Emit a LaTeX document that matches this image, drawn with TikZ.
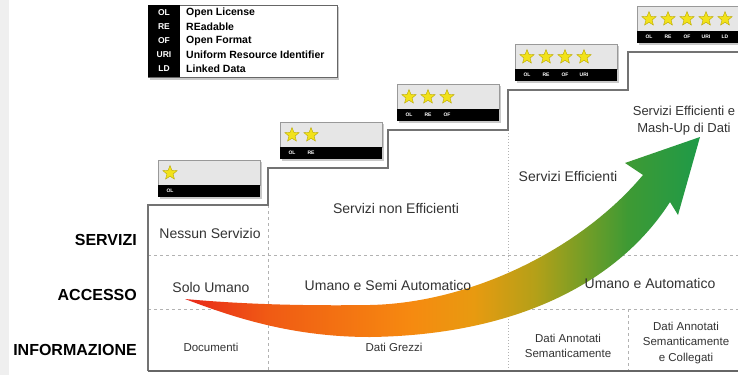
\documentclass[tikz,border=0pt]{standalone}
\usepackage{fontspec}
\setmainfont{Liberation Sans}
\usetikzlibrary{shapes.geometric}
\definecolor{bgstrip}{HTML}{EFEFEF}
\definecolor{celltext}{HTML}{333333}
\definecolor{boxgray}{HTML}{E6E6E6}
\definecolor{staryellow}{HTML}{F2E21A}
\definecolor{stardark}{HTML}{B8A800}
\definecolor{arA}{HTML}{E8281A}
\definecolor{arB}{HTML}{F05A14}
\definecolor{arC}{HTML}{F68A10}
\definecolor{arD}{HTML}{E89A10}
\definecolor{arE}{HTML}{B4A018}
\definecolor{arF}{HTML}{7E9E24}
\definecolor{arG}{HTML}{3E9A34}
\definecolor{arH}{HTML}{1E9A48}
\pgfdeclarehorizontalshading{arrowshade}{100bp}{color(0bp)=(arA); color(25bp)=(arA); color(33bp)=(arB); color(47bp)=(arC); color(53bp)=(arD); color(59bp)=(arE); color(63bp)=(arF); color(68bp)=(arG); color(75bp)=(arH); color(100bp)=(arH)}
\newcommand{\ratingbox}[4]{%
  % #1 x, #2 y, #3 number of stars, #4 name
  \fill[black!35,opacity=.6] (#1+2,#2+2) rectangle (#1+104,#2+39);
  \filldraw[fill=boxgray,draw=black!40,line width=0.5pt] (#1,#2) rectangle (#1+102,#2+25);
  \fill[black] (#1,#2+25) rectangle (#1+102,#2+37);
  \foreach \lab [count=\k] in {OL,RE,OF,URI,LD}{%
    \ifnum\k>#3\relax\else
      \node[staricon] (#4-s\k) at (#1+12+19*\k-19,#2+13) {};
      \node[striplabel] (#4-l\k) at (#1+12+19*\k-19,#2+31) {\lab};
    \fi}%
}
\begin{document}
\begin{tikzpicture}[x=1pt,y=-1pt,
  staricon/.style={star,star points=5,star point ratio=2.3,fill=staryellow,draw=stardark,line width=0.4pt,minimum size=15pt,inner sep=0pt},
  striplabel/.style={text=white,font=\bfseries\fontsize{5}{6}\selectfont,inner sep=0pt},
  gridline/.style={draw=black!30,dash pattern=on 3pt off 3pt,line width=0.6pt},
  dotline/.style={draw=black!30,dash pattern=on 1pt off 2pt,line width=0.6pt},
  stair/.style={draw=black!55,line width=1.3pt},
  rowlabel/.style={anchor=east,font=\bfseries\fontsize{16}{18}\selectfont,text=black,inner sep=0pt},
  celltxt/.style={text=celltext,font=\fontsize{14}{18}\selectfont,align=center,inner sep=0pt},
  smalltxt/.style={text=celltext,font=\fontsize{11.5}{15.5}\selectfont,align=center,inner sep=0pt},
  legabbr/.style={text=white,font=\bfseries\fontsize{8.5}{10}\selectfont,inner sep=0pt},
  legtxt/.style={anchor=west,text=black,font=\bfseries\fontsize{10.5}{12}\selectfont,inner sep=0pt}]
\useasboundingbox (0,0) rectangle (738,375);
\begin{scope}
\clip (0,0) rectangle (738,375);
\fill[white] (0,0) rectangle (738,375);
\fill[bgstrip] (0,0) rectangle (9,375);
% grid lines
\draw[gridline] (148,255) -- (745,255);
\draw[gridline] (148,309) -- (745,309);
\draw[gridline] (268,205) -- (268,371);
\draw[dotline] (508,130) -- (508,371);
\draw[gridline] (628,309) -- (628,371);
% staircase and base
\draw[stair] (148,371) -- (148,205) -- (268,205) -- (268,168) -- (388,168) -- (388,130) -- (508,130) -- (508,90) -- (628,90) -- (628,52) -- (745,52);
\draw[draw=black!60,line width=1.8pt] (148,371) -- (745,371);
% arrow
\shade[shading=arrowshade] (185,299) .. controls (240,304) and (300,306) .. (370,305) .. controls (470,303) and (580,250) .. (643,175) -- (625,163) -- (700,137) -- (678,215) -- (670,202) .. controls (620,280) and (520,335) .. (370,337) .. controls (290,337) and (230,316) .. (185,299) -- cycle;
% legend
\fill[black!35,opacity=.6] (150,7) rectangle (339,80);
\filldraw[fill=white,draw=black!60,line width=0.6pt] (148,5) rectangle (337,77);
\fill[black] (148,5) rectangle (180,77);
\node[legabbr] (abOL) at (164,13) {OL};
\node[legabbr] (abRE) at (164,27) {RE};
\node[legabbr] (abOF) at (164,41) {OF};
\node[legabbr] (abURI) at (164,55) {URI};
\node[legabbr] (abLD) at (164,69) {LD};
\node[legtxt] (lgOL) at (186,13) {Open License};
\node[legtxt] (lgRE) at (186,27) {REadable};
\node[legtxt] (lgOF) at (186,41) {Open Format};
\node[legtxt] (lgURI) at (186,55) {Uniform Resource Identifier};
\node[legtxt] (lgLD) at (186,69) {Linked Data};
% rating boxes
\ratingbox{158}{160}{1}{bA}
\ratingbox{280}{122}{2}{bB}
\ratingbox{397}{84}{3}{bC}
\ratingbox{515}{44}{4}{bD}
\ratingbox{637}{6}{5}{bE}
% row labels
\node[rowlabel] (lserv) at (137,240) {SERVIZI};
\node[rowlabel] (lacc) at (137,295) {ACCESSO};
\node[rowlabel] (linf) at (137,350) {INFORMAZIONE};
% cells
\node[celltxt] (c11) at (210,233) {Nessun Servizio};
\node[celltxt] (c12) at (396,208) {Servizi non Efficienti};
\node[celltxt] (c13) at (568,176) {Servizi Efficienti};
\node[celltxt,font=\fontsize{13}{17}\selectfont] (c14) at (684,121) {Servizi Efficienti e\\Mash-Up di Dati};
\node[celltxt] (c21) at (211,287) {Solo Umano};
\node[celltxt] (c22) at (388,285) {Umano e Semi Automatico};
\node[celltxt] (c23) at (650,283) {Umano e Automatico};
\node[smalltxt] (c31) at (211,347) {Documenti};
\node[smalltxt] (c32) at (394,347) {Dati Grezzi};
\node[smalltxt] (c33) at (568,346) {Dati Annotati\\Semanticamente};
\node[smalltxt] (c34) at (686,343) {Dati Annotati\\Semanticamente\\e Collegati};
\end{scope}
\end{tikzpicture}
\end{document}
